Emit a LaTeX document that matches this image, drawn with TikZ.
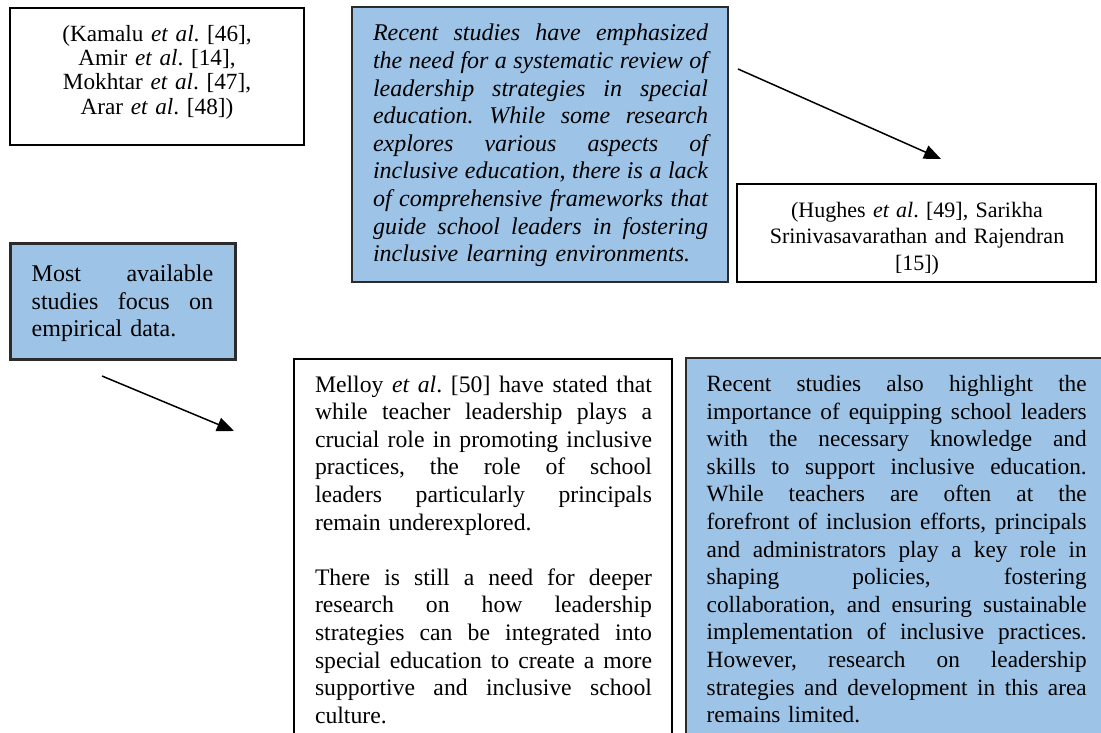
\documentclass[tikz,border=0pt]{standalone}
\usepackage{fontspec}
\setmainfont{Liberation Serif}
\usetikzlibrary{arrows.meta}
\definecolor{boxblue}{HTML}{9DC3E6}
\definecolor{boxedge}{HTML}{2B2B2B}
\newcommand{\J}[1]{\makebox[\hsize][s]{\spaceskip=0pt\xspaceskip=0pt #1}}
\frenchspacing
\tikzset{
  whitebox/.style={draw=black, line width=1.1pt, fill=white, inner sep=0pt, outer sep=0pt, anchor=north west},
  bluebox/.style={draw=boxedge, line width=1.4pt, fill=boxblue, inner sep=0pt, outer sep=0pt, anchor=north west},
  thickbox/.style={draw=boxedge, line width=3pt, fill=boxblue, inner sep=0pt, outer sep=0pt, anchor=north west},
  txt/.style={inner sep=0pt, outer sep=0pt, anchor=base west, align=left},
  ctxt/.style={inner sep=0pt, outer sep=0pt, anchor=base, align=center},
  arr/.style={line width=1.5pt, -{Triangle[length=17pt,width=14pt]}}
}
\begin{document}
\begin{tikzpicture}[x=1pt,y=-1pt]
\useasboundingbox (0,0) rectangle (1101,733);
\clip (0,0) rectangle (1101,733);
% boxes
\node[whitebox, minimum width=294pt, minimum height=137pt] (A) at (10,8) {};
\node[bluebox, minimum width=376pt, minimum height=275pt] (B) at (352,7) {};
\node[whitebox, minimum width=359pt, minimum height=98pt] (C) at (737,184) {};
\node[thickbox, minimum width=225pt, minimum height=116pt] (D) at (10,243) {};
\node[whitebox, minimum width=378pt, minimum height=420pt] (E) at (294,359) {};
\node[bluebox, minimum width=440pt, minimum height=420pt] (F) at (686,358) {};
% texts
\node[ctxt, text width=290pt, font=\fontsize{23.2}{24.2}\selectfont] (At) at (157,41.5)
  {(Kamalu \textit{et al}. [46],\\ Amir \textit{et al}. [14],\\ Mokhtar \textit{et al}. [47],\\ Arar \textit{et al}. [48])};
\node[txt, text width=335pt, font=\fontsize{24}{27.6}\selectfont\itshape] (Bt) at (373,41)
  {\J{Recent studies have emphasized}\\
   \J{the need for a systematic review of}\\
   \J{leadership strategies in special}\\
   \J{education. While some research}\\
   \J{explores various aspects of}\\
   \J{inclusive education, there is a lack}\\
   \J{of comprehensive frameworks that}\\
   \J{guide school leaders in fostering}\\
   inclusive learning environments.};
\node[ctxt, text width=355pt, font=\fontsize{22}{26.5}\selectfont] (Ct) at (917,217.5)
  {(Hughes \textit{et al}. [49], Sarikha\\ Srinivasavarathan and Rajendran\\ {[15])}};
\node[txt, text width=181.5pt, font=\fontsize{24}{27.6}\selectfont] (Dt) at (31.7,281.5)
  {\J{Most available}\\
   \J{studies focus on}\\
   empirical data.};
\node[txt, text width=337pt, font=\fontsize{23.7}{27.6}\selectfont] (Et) at (315,392)
  {\J{Melloy \textit{et al}. [50] have stated that}\\
   \J{while teacher leadership plays a}\\
   \J{crucial role in promoting inclusive}\\
   \J{practices, the role of school}\\
   \J{leaders particularly principals}\\
   remain underexplored.\\[27.6pt]
   \J{There is still a need for deeper}\\
   \J{research on how leadership}\\
   \J{strategies can be integrated into}\\
   \J{special education to create a more}\\
   \J{supportive and inclusive school}\\
   culture.};
\node[txt, text width=380pt, font=\fontsize{23.3}{27.6}\selectfont] (Ft) at (706.7,391.5)
  {\J{Recent studies also highlight the}\\
   \J{importance of equipping school leaders}\\
   \J{with the necessary knowledge and}\\
   \J{skills to support inclusive education.}\\
   \J{While teachers are often at the}\\
   \J{forefront of inclusion efforts, principals}\\
   \J{and administrators play a key role in}\\
   \J{shaping policies, fostering}\\
   \J{collaboration, and ensuring sustainable}\\
   \J{implementation of inclusive practices.}\\
   \J{However, research on leadership}\\
   \J{strategies and development in this area}\\
   remains limited.};
% arrows
\coordinate (a1s) at (738,69);
\coordinate (a1e) at (941,159);
\coordinate (a2s) at (102,376);
\coordinate (a2e) at (234,431);
\draw[arr] (a1s) -- (a1e);
\draw[arr] (a2s) -- (a2e);
\end{tikzpicture}
\end{document}
